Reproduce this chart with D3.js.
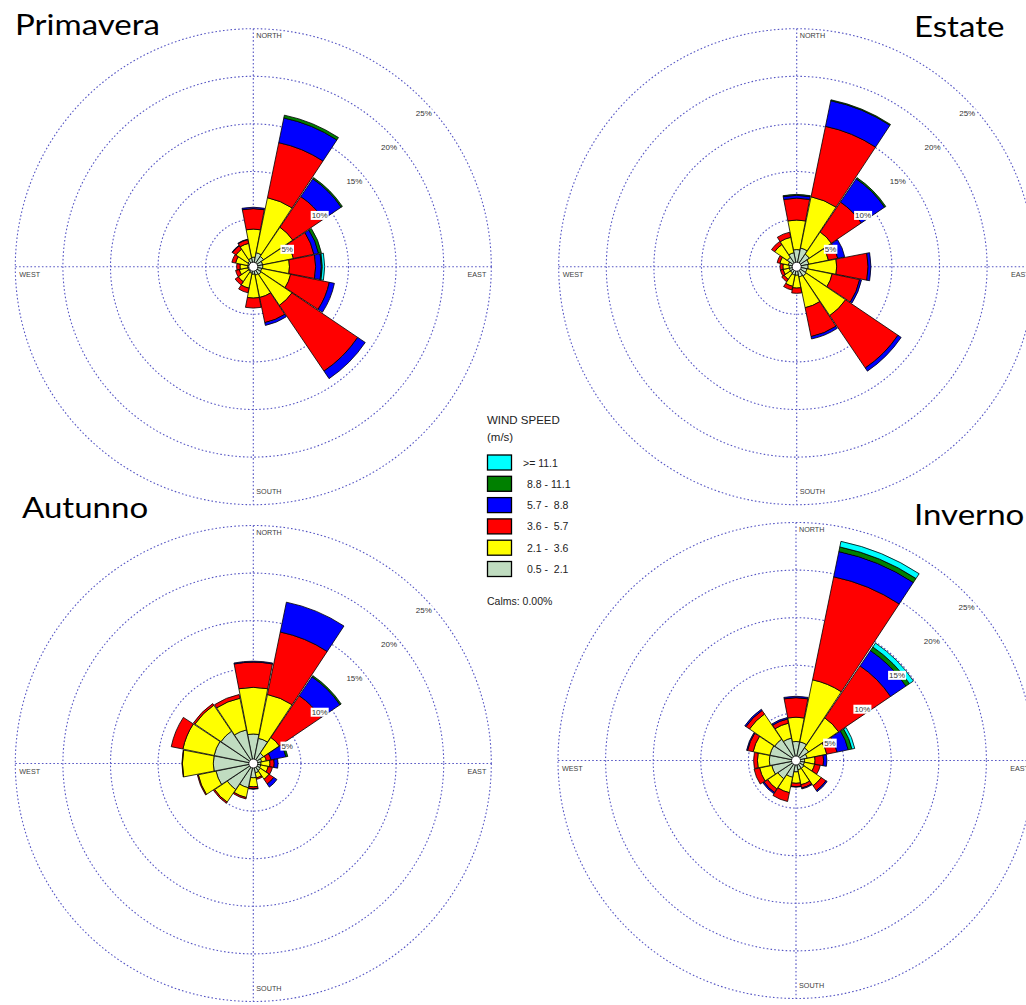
<!DOCTYPE html>
<html>
<head>
<meta charset="utf-8">
<script src="https://cdn.jsdelivr.net/npm/d3@7"></script>
<style>
  body { margin: 0; background: #fff; }
  svg { display: block; }
  .pre { white-space: pre; }
</style>
</head>
<body>
<svg id="chart" width="1026" height="1005"></svg>
<script>
// Sixteen compass sectors, clockwise from north
const directions = ["N", "NNE", "NE", "ENE", "E", "ESE", "SE", "SSE",
                    "S", "SSW", "SW", "WSW", "W", "WNW", "NW", "NNW"];

// Wind speed classes (m/s), slowest first
const speedClasses = ["0.5 -  2.1", "2.1 -  3.6", "3.6 -  5.7", "5.7 -  8.8", "8.8 - 11.1", ">= 11.1"];
const speedColors  = ["#c0dcc0", "#ffff00", "#ff0000", "#0000ff", "#008000", "#00ffff"];

// Frequency (%) per direction, one column per speed class (slowest first)
const primavera = [
  [1.0, 2.95, 2.15, 0.15, 0,    0   ],
  [1.5, 5.9,  5.9,  2.65, 0.3,  0   ],
  [1.3, 3.7,  3.9,  2.25, 0.15, 0   ],
  [1.0, 3.3,  2.2,  0.5,  0.3,  0   ],
  [1.0, 2.8,  2.75, 0.6,  0.1,  0.25],
  [0.9, 3.1,  4.15, 0.55, 0,    0   ],
  [1.0, 3.9,  8.35, 0.95, 0,    0   ],
  [0.9, 2.4,  2.7,  0.3,  0,    0   ],
  [0.8, 2.5,  1.05, 0,    0,    0   ],
  [0.7, 1.6,  0.5,  0,    0,    0   ],
  [0.6, 1.3,  0.4,  0,    0,    0   ],
  [0.6, 0.9,  0.4,  0,    0,    0   ],
  [0.6, 0.8,  0.35, 0,    0,    0   ],
  [0.6, 1.3,  0.4,  0,    0,    0   ],
  [0.7, 1.5,  0.45, 0.05, 0,    0   ],
  [0.9, 1.6,  0.4,  0.05, 0,    0   ]
];

const estate = [
  [1.8, 3.1,  2.3,  0.3,  0.1,  0],
  [2.0, 5.5,  7.55, 2.75, 0.1,  0],
  [1.6, 2.8,  3.8,  2.95, 0.15, 0],
  [1.3, 2.1,  1.0,  0.75, 0,    0],
  [1.2, 3.0,  3.3,  0.3,  0,    0],
  [1.1, 2.7,  2.95, 0.2,  0,    0],
  [1.2, 5.0,  6.65, 0.4,  0,    0],
  [1.1, 3.3,  3.1,  0.25, 0,    0],
  [0.9, 1.35, 0.55, 0,    0,    0],
  [0.9, 1.2,  0.4,  0,    0,    0],
  [0.8, 0.8,  0.3,  0,    0,    0],
  [0.8, 0.65, 0.3,  0,    0,    0],
  [0.8, 0.65, 0.3,  0,    0,    0],
  [0.9, 0.9,  0.3,  0,    0,    0],
  [1.2, 1.6,  0.4,  0,    0,    0],
  [1.5, 1.65, 0.55, 0,    0,    0]
];

const autunno = [
  [3.1, 4.9,  2.65, 0.1,  0,    0],
  [2.7, 4.7,  6.7,  3.2,  0,    0],
  [1.3, 2.0,  5.3,  2.4,  0.15, 0],
  [0.9, 0.5,  0.5,  1.6,  0.2,  0],
  [0.8, 0.95, 0.45, 0.4,  0,    0],
  [0.8, 0.8,  0.45, 0,    0,    0],
  [0.9, 1.1,  0.6,  0.4,  0,    0],
  [1.0, 0.55, 0.15, 0,    0,    0],
  [1.5, 0.95, 0.2,  0.05, 0,    0],
  [2.6, 1.05, 0.15, 0,    0,    0],
  [3.3, 1.6,  0.15, 0,    0,    0],
  [4.0, 1.9,  0.1,  0,    0,    0],
  [4.2, 3.25, 0.05, 0,    0,    0],
  [4.2, 3.35, 1.25, 0,    0,    0],
  [4.1, 3.3,  0.2,  0,    0,    0],
  [3.6, 3.4,  0.4,  0,    0,    0]
];

const inverno = [
  [2.0, 2.55, 2.05,  0.15, 0,    0  ],
  [2.0, 6.65, 11.05, 2.7,  0.5,  0.6],
  [1.6, 3.8,  6.6,   1.95, 0.45, 0.5],
  [1.2, 2.1,  1.1,   1.2,  0.4,  0.3],
  [0.9, 1.1,  0.9,   0.35, 0,    0  ],
  [0.9, 1.1,  0.6,   0,    0,    0  ],
  [1.0, 2.2,  0.6,   0.15, 0,    0  ],
  [1.0, 1.6,  0.35,  0.1,  0,    0  ],
  [1.2, 1.2,  0.35,  0.05, 0,    0  ],
  [1.8, 1.65, 0.95,  0,    0,    0  ],
  [2.3, 1.3,  0.45,  0.15, 0,    0  ],
  [2.6, 1.3,  0.6,   0,    0,    0  ],
  [2.8, 1.25, 0.4,   0,    0,    0  ],
  [2.8, 1.8,  0.6,   0.1,  0,    0  ],
  [2.7, 3.2,  0.45,  0.15, 0,    0  ],
  [2.4, 1.6,  0.45,  0.15, 0,    0  ]
];

const seasonNames = ["Primavera", "Estate", "Autunno", "Inverno"];
const seasonData  = [primavera, estate, autunno, inverno];
const ringTicks   = [5, 10, 15, 20, 25];
const calmsText   = "Calms: 0.00%";

// ---- layout ----
const svg = d3.select("#chart");
const R = 238;
const rScale = d3.scaleLinear().domain([0, 25]).range([0, R]);
const roseCenters = [[253.3, 266.7], [796.7, 266.7], [253.3, 763.5], [796, 760.5]];
const titlePos = [[15, 35], [914, 37], [22, 518], [914, 525]];
const gridColor = "#5656c4";
const sector = 2 * Math.PI / directions.length;
const pad = 0.006;

function drawRose(g, data) {
  // rings and cross-hair
  g.selectAll("circle.ring").data(ringTicks).join("circle")
    .attr("class", "ring")
    .attr("r", d => rScale(d))
    .attr("fill", "none")
    .attr("stroke", gridColor)
    .attr("stroke-width", 1.1)
    .attr("stroke-dasharray", "1.6,2.2");
  const axes = [[0, -R, 0, R], [-R, 0, R, 0]];
  g.selectAll("line.axis").data(axes).join("line")
    .attr("class", "axis")
    .attr("x1", d => d[0]).attr("y1", d => d[1])
    .attr("x2", d => d[2]).attr("y2", d => d[3])
    .attr("stroke", gridColor)
    .attr("stroke-width", 1.1)
    .attr("stroke-dasharray", "1.6,2.2");

  // compass labels
  const cl = g.append("g")
    .attr("font-family", "Liberation Sans, Arial, sans-serif")
    .attr("font-size", 7.2)
    .attr("fill", "#404040");
  cl.append("text").attr("x", 3).attr("y", -R + 9).text("NORTH");
  cl.append("text").attr("x", 3).attr("y", R - 11).text("SOUTH");
  cl.append("text").attr("x", -R + 4).attr("y", 10).text("WEST");
  cl.append("text").attr("x", R - 5).attr("y", 10).attr("text-anchor", "end").text("EAST");

  // stacked petals
  const arc = d3.arc();
  const segments = [];
  data.forEach((row, i) => {
    const a = i * sector;
    let acc = 0;
    row.forEach((v, k) => {
      if (v > 0) {
        segments.push({
          innerRadius: rScale(acc),
          outerRadius: rScale(acc + v),
          startAngle: a - sector / 2 + pad,
          endAngle: a + sector / 2 - pad,
          cls: k
        });
      }
      acc += v;
    });
  });
  g.append("g").selectAll("path").data(segments).join("path")
    .attr("d", d => arc(d))
    .attr("fill", d => speedColors[d.cls])
    .attr("stroke", "#000")
    .attr("stroke-width", 0.8)
    .attr("stroke-linejoin", "miter");

  // calm circle
  g.append("circle").attr("r", 4.5).attr("fill", "#fff")
    .attr("stroke", "#000").attr("stroke-width", 0.8);

  // ring value labels along the north-east diagonal
  const lg = g.append("g")
    .attr("font-family", "Liberation Sans, Arial, sans-serif")
    .attr("font-size", 8)
    .attr("fill", "#333");
  ringTicks.forEach(t => {
    const r = rScale(t);
    const x = r * 0.729 + 5;
    const y = -r * 0.712 + 16;
    const bg = lg.append("rect").attr("fill", "#fff");
    const tx = lg.append("text")
      .attr("x", x).attr("y", y + 3)
      .attr("text-anchor", "end")
      .text(t + "%");
    const b = tx.node().getBBox();
    bg.attr("x", b.x - 1).attr("y", b.y).attr("width", b.width + 2).attr("height", b.height);
  });
}

seasonData.forEach((data, i) => {
  const g = svg.append("g")
    .attr("transform", `translate(${roseCenters[i][0]},${roseCenters[i][1]})`);
  drawRose(g, data);
});

// season titles (slightly widened to the heading face's proportions)
svg.append("g").selectAll("text").data(seasonNames).join("text")
  .attr("transform", (d, i) => `translate(${titlePos[i][0]},${titlePos[i][1]}) scale(1.12,1)`)
  .attr("font-family", "Lato, 'Open Sans', sans-serif")
  .attr("font-size", 29.5)
  .attr("fill", "#000")
  .text(d => d);

// legend
const leg = svg.append("g")
  .attr("font-family", "Liberation Sans, Arial, sans-serif")
  .attr("fill", "#222");
leg.append("text").attr("x", 487).attr("y", 424).attr("font-size", 11.5).text("WIND SPEED");
leg.append("text").attr("x", 487).attr("y", 441).attr("font-size", 11.5).text("(m/s)");
const legendRows = d3.range(speedClasses.length).reverse();
legendRows.forEach((k, j) => {
  const y = 455 + j * 21.3;
  leg.append("rect")
    .attr("x", 487.5).attr("y", y).attr("width", 24).attr("height", 15)
    .attr("fill", speedColors[k]).attr("stroke", "#000").attr("stroke-width", 1.3);
  leg.append("text")
    .attr("class", "pre")
    .attr("x", k === speedClasses.length - 1 ? 523 : 527)
    .attr("y", y + 11.5)
    .attr("font-size", 10.5)
    .text(speedClasses[k]);
});
leg.append("text").attr("x", 487).attr("y", 605).attr("font-size", 10.5).text(calmsText);
</script>
</body>
</html>
